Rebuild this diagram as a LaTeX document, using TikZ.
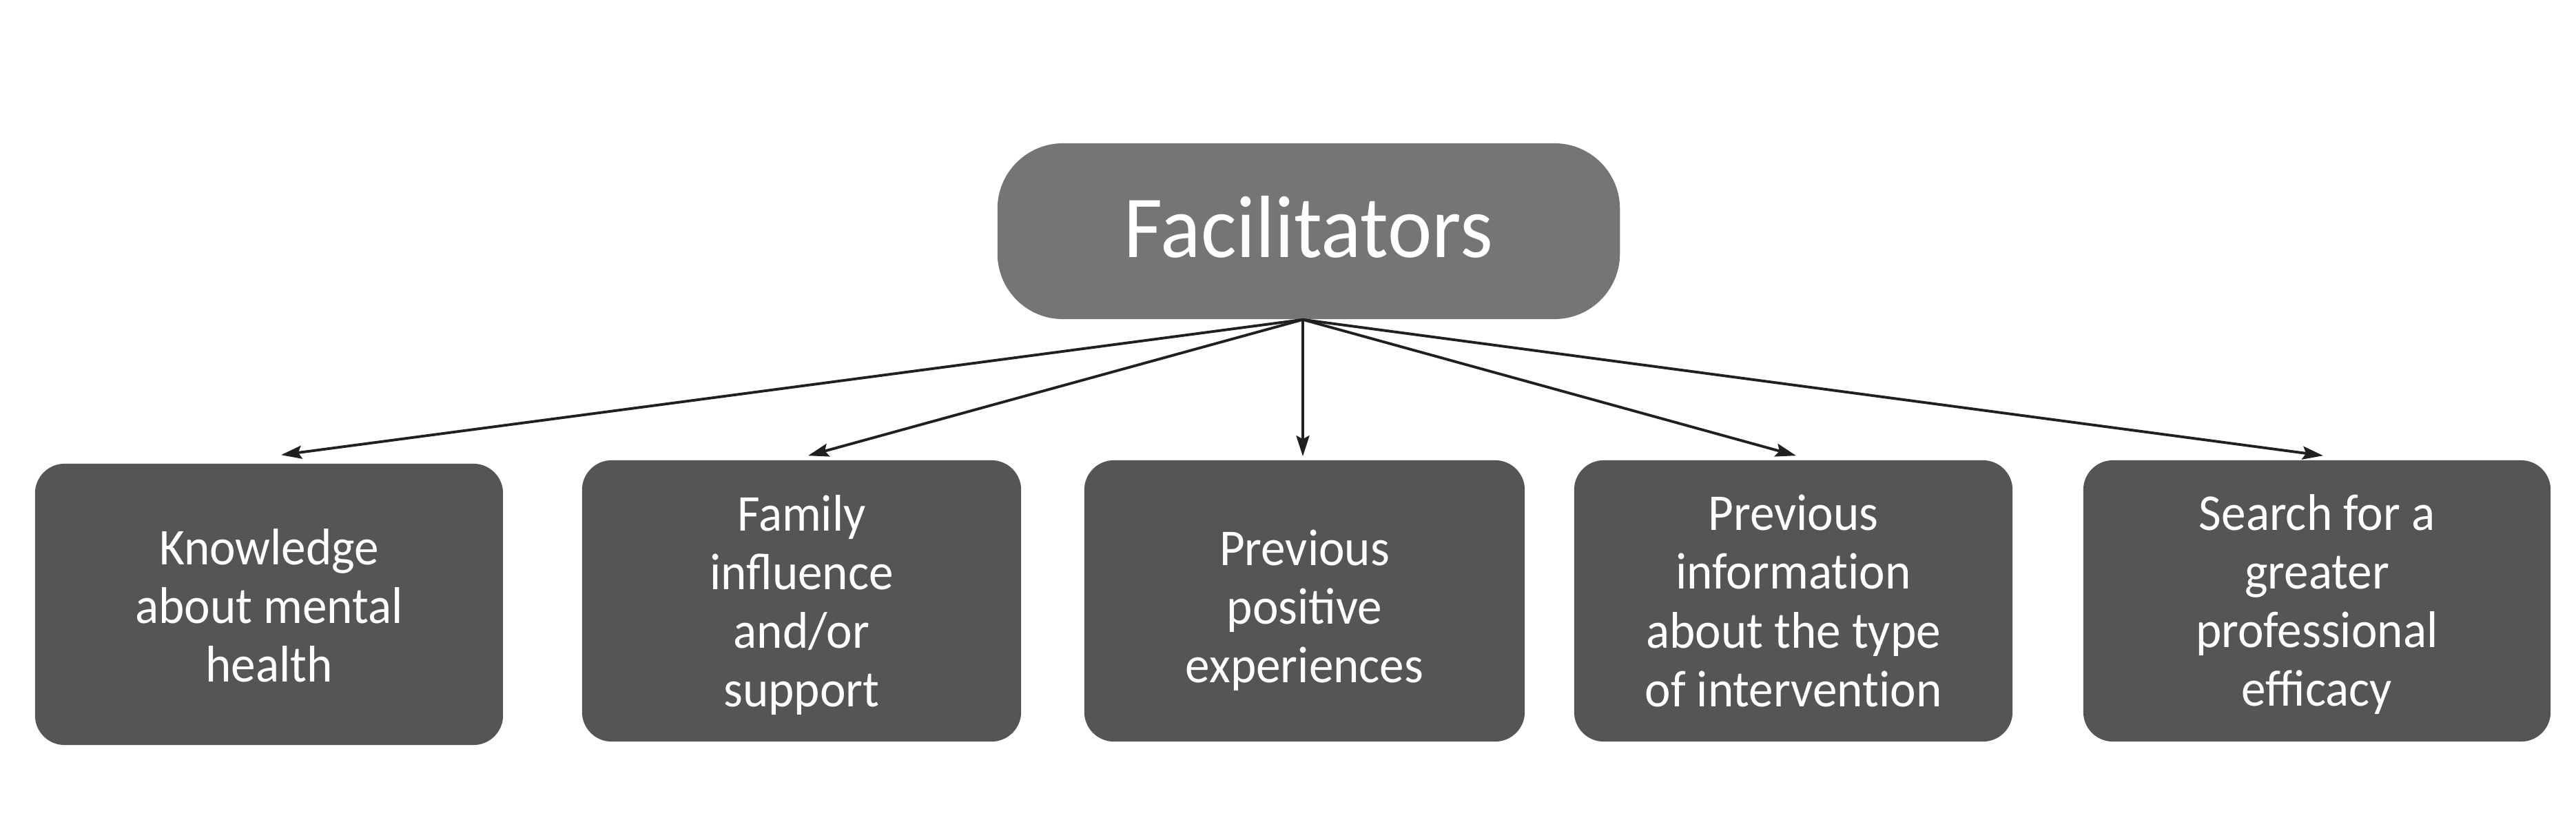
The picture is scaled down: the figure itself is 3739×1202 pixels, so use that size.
\documentclass[tikz,border=0pt]{standalone}
\usepackage{fontspec}
\setmainfont{Carlito}[FakeStretch=0.95]
\usetikzlibrary{arrows.meta}
\definecolor{topgray}{HTML}{757575}
\definecolor{boxgray}{HTML}{555555}
\definecolor{arrowc}{HTML}{231F20}
\tikzset{
  x=0.01cm, y=-0.01cm,
  topbox/.style={fill=topgray, draw=none, rounded corners=0.95cm, minimum width=9.03cm, minimum height=2.55cm, text=white, font=\fontsize{36.5}{40}\selectfont, inner sep=0pt},
  leaf/.style={fill=boxgray, draw=none, rounded corners=0.43cm, minimum height=4.08cm, text=white, align=center, font=\fontsize{21.3}{24.2}\selectfont, inner sep=0pt},
  leaftext/.style={text=white, align=center, font=\fontsize{21.3}{24.2}\selectfont, inner sep=0pt},
  arr/.style={draw=arrowc, line width=1.1pt, -{Stealth[length=0.30cm,width=0.19cm,inset=0.05cm]}}
}
\begin{document}
\begin{tikzpicture}
\useasboundingbox (0,0) rectangle (3739,1202);
\node[topbox, label={[text=white, font=\fontsize{36.5}{40}\selectfont, inner sep=0pt, yshift=0.06cm]center:Facilitators}] (top) at (1899.5,335.5) {};
\node[leaf, minimum width=6.79cm, label={[leaftext, yshift=-0.02cm]center:{Knowledge\\about mental\\health}}] (b1) at (390.5,877) {};
\node[leaf, minimum width=6.37cm, label={[leaftext, yshift=-0.06cm]center:{Family\\influence\\and/or\\support}}] (b2) at (1163.5,872) {};
\node[leaf, minimum width=6.39cm, label={[leaftext, yshift=-0.14cm]center:{Previous\\positive\\experiences}}] (b3) at (1893.5,872) {};
\node[leaf, minimum width=6.36cm, label={[leaftext, yshift=0cm]center:{Previous\\informat\kern0pt ion\\about the type\\of intervent\kern0pt ion}}] (b4) at (2603,872) {};
\node[leaf, minimum width=6.78cm, label={[leaftext, yshift=-0.05cm]center:{Search for a\\greater\\professional\\efficacy}}] (b5) at (3363,872) {};
\coordinate (o) at ([xshift=-0.085cm]top.south);
\draw[arr] (o) -- ([xshift=0.175cm,yshift=0.12cm]b1.north);
\draw[arr] (o) -- ([xshift=0.095cm,yshift=0.06cm]b2.north);
\draw[arr] (o) -- ([xshift=-0.025cm,yshift=0.05cm]b3.north);
\draw[arr] (o) -- ([xshift=0.04cm,yshift=0.06cm]b4.north);
\draw[arr] (o) -- ([xshift=0.09cm,yshift=0.06cm]b5.north);
\end{tikzpicture}
\end{document}
